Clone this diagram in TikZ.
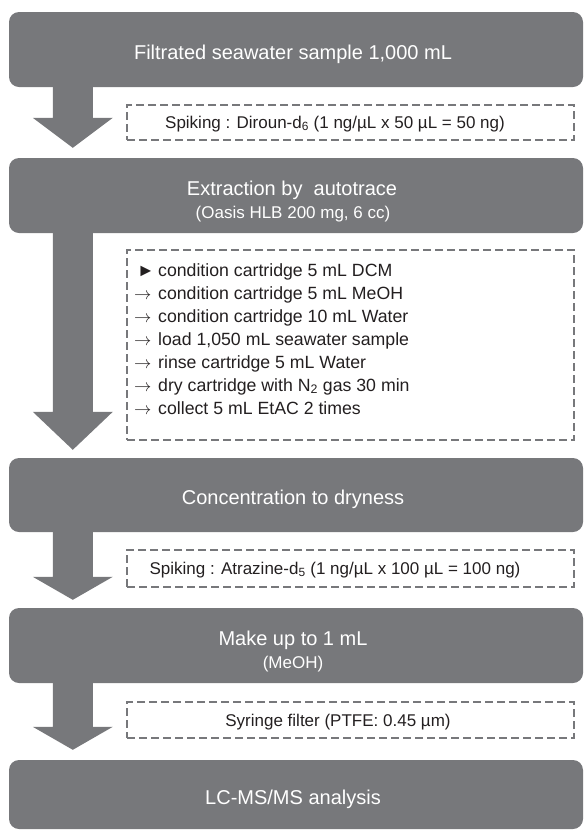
\documentclass[tikz,border=0pt]{standalone}
\usepackage{fontspec}
\setmainfont{Liberation Sans}
\usetikzlibrary{calc}
\definecolor{boxgray}{HTML}{77787B}
\definecolor{dashgray}{HTML}{77787B}
\definecolor{inkdark}{HTML}{231F20}
\newcommand{\blockarr}[4]{%
  \fill[boxgray] let \p1=(#1.south west), \p2=($(#2.north west)+(0,-#3)$) in
    (\x1+44pt,\y1) -- (\x1+84pt,\y1) -- (\x1+84pt,\y2+#4pt) -- (\x1+104pt,\y2+#4pt)
    -- (\x1+64pt,\y2) -- (\x1+24pt,\y2+#4pt) -- (\x1+44pt,\y2+#4pt) -- cycle;}
\newcommand{\stepfirst}{\makebox[24pt][l]{\hspace{3pt}►}}
\newcommand{\stepnext}{\makebox[24pt][l]{$\rightarrow$}}
\begin{document}
\begin{tikzpicture}[x=1pt,y=-1pt,
  procbox/.style={fill=boxgray, rounded corners=10pt, minimum width=574pt, inner sep=0pt},
  boxtext/.style={text=white, anchor=base, inner sep=0pt, font=\fontsize{20}{24}\selectfont},
  boxsub/.style={text=white, anchor=base, inner sep=0pt, font=\fontsize{17}{20}\selectfont},
  notebox/.style={draw=dashgray, line width=2.2pt, dash pattern=on 8pt off 4pt, minimum width=447pt, inner sep=0pt},
  notetext/.style={text=inkdark, anchor=base, inner sep=0pt, font=\fontsize{17}{20}\selectfont}]
\useasboundingbox (0,0) rectangle (584,831);
% process boxes
\node[procbox, minimum height=75pt] (b1) at (296,49.5) {};
\node[procbox, minimum height=75pt] (b2) at (296,195.5) {};
\node[procbox, minimum height=74pt] (b3) at (296,495) {};
\node[procbox, minimum height=75pt] (b4) at (296,645.5) {};
\node[procbox, minimum height=69pt] (b5) at (296,794.5) {};
% note boxes
\node[notebox, minimum height=35pt] (n1) at (350.5,122.5) {};
\node[notebox, minimum height=190pt] (n2) at (350.5,345) {};
\node[notebox, minimum height=37pt] (n3) at (350.5,568.5) {};
\node[notebox, minimum height=36pt] (n4) at (350.5,720) {};
% block arrows
\blockarr{b1}{b2}{10}{30}
\blockarr{b2}{b3}{8}{38}
\blockarr{b3}{b4}{8}{23}
\blockarr{b4}{b5}{10}{23}
% texts
\node[boxtext] (t1) at (293,59) {Filtrated seawater sample 1,000 mL};
\node[boxtext] (t2a) at (292,195) {Extraction by\ \ autotrace};
\node[boxsub] (t2b) at (293,218) {(Oasis HLB 200 mg, 6 cc)};
\node[boxtext] (t3) at (293,504) {Concentration to dryness};
\node[boxtext] (t4a) at (293,645) {Make up to 1 mL};
\node[boxsub] (t4b) at (293,668) {(MeOH)};
\node[boxtext] (t5) at (293,804) {LC-MS/MS analysis};
\node[notetext] (s1) at (335,128) {Spiking : Diroun-d\textsubscript{6} (1 ng/µL x 50 µL = 50 ng)};
\node[notetext] (s3) at (335,574) {Spiking : Atrazine-d\textsubscript{5} (1 ng/µL x 100 µL = 100 ng)};
\node[notetext] (s4) at (338,726) {Syringe filter (PTFE: 0.45 µm)};
\node[text=inkdark, anchor=north west, inner sep=0pt, align=left,
  font=\fontsize{17.7}{23}\selectfont] (lst) at (134,263) {%
  \stepfirst condition cartridge 5 mL DCM\\
  \stepnext condition cartridge 5 mL MeOH\\
  \stepnext condition cartridge 10 mL Water\\
  \stepnext load 1,050 mL seawater sample\\
  \stepnext rinse cartridge 5 mL Water\\
  \stepnext dry cartridge with N\textsubscript{2} gas 30 min\\
  \stepnext collect 5 mL EtAC 2 times};
\end{tikzpicture}
\end{document}
